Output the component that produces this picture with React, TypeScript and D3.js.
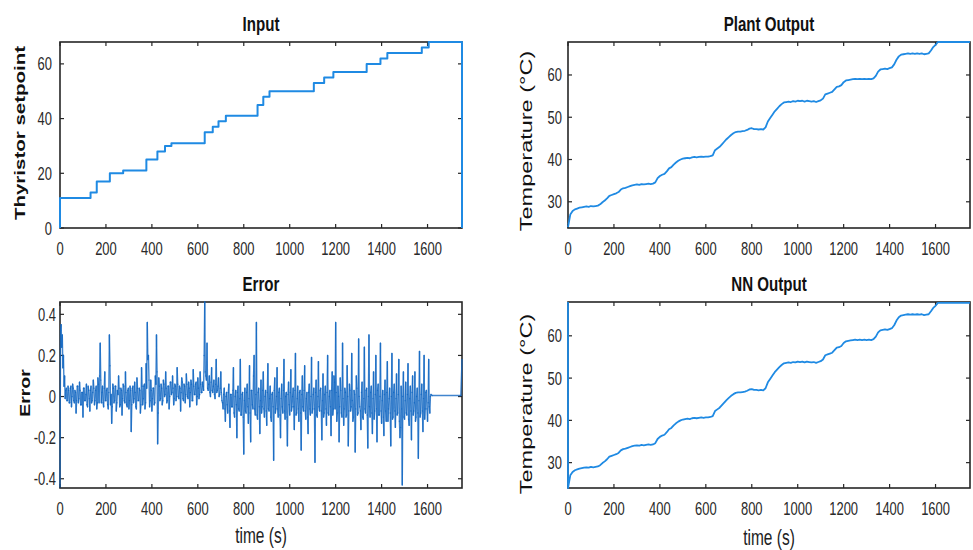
import React from 'react';
import * as d3 from 'd3';

// ---------- data ----------
const xTickValues = [0, 200, 400, 600, 800, 1000, 1200, 1400, 1600];
const inputTicks = [0, 20, 40, 60];
const tempTicks = [30, 40, 50, 60];
const errorTicks = [-0.4, -0.2, 0, 0.2, 0.4];

// Input (thyristor setpoint) step changes
const inputTimes = [0, 0, 133, 160, 217, 275, 376, 424, 457, 485, 630, 665, 690, 722, 860, 885, 912, 1105, 1150, 1190, 1335, 1395, 1425, 1575, 1605, 1750, 1750];
const inputValues = [0, 11, 13, 17, 20, 21, 25, 28, 30, 31, 35, 37, 39, 41, 45, 48, 50, 53, 55, 57, 60, 62, 64, 66, 68, 68, 0];

// Plant output temperature, sampled every 10 s from t = 0
const plantSampleStep = 10;
const plantValues = [
  24.0, 27.0, 27.8, 28.2, 28.4, 28.6, 28.7, 28.8, 28.9, 28.8,
  29.0, 28.9, 29.0, 29.1, 29.4, 29.9, 30.3, 30.8, 31.4, 31.6,
  31.8, 32.0, 32.3, 32.9, 33.2, 33.3, 33.5, 33.7, 33.9, 34.0,
  34.1, 34.0, 34.2, 34.1, 34.2, 34.3, 34.2, 34.3, 34.6, 35.6,
  36.1, 36.4, 36.6, 37.2, 37.9, 38.2, 38.8, 39.3, 39.7, 40.0,
  40.2, 40.3, 40.4, 40.3, 40.5, 40.6, 40.5, 40.6, 40.7, 40.6,
  40.7, 40.7, 40.8, 41.0, 42.2, 42.6, 43.0, 43.6, 44.2, 44.8,
  45.3, 45.8, 46.2, 46.5, 46.6, 46.6, 46.7, 46.8, 47.0, 47.3,
  47.4, 47.2, 47.2, 47.1, 47.2, 47.1, 47.6, 49.0, 49.8, 50.6,
  51.4, 52.0, 52.6, 53.1, 53.5, 53.6, 53.7, 53.6, 53.8, 53.7,
  53.9, 53.8, 53.9, 53.7, 53.9, 53.8, 53.7, 53.8, 53.6, 53.8,
  54.0, 54.4, 55.4, 55.6, 55.8, 56.0, 56.6, 57.2, 57.3, 57.6,
  58.3, 58.7, 58.8, 58.9, 59.0, 59.1, 59.0, 59.1, 59.0, 59.1,
  59.0, 59.1, 59.0, 59.2, 59.8, 60.8, 61.3, 61.4, 61.5, 61.4,
  61.6, 61.8, 62.5, 63.6, 64.4, 64.8, 64.9, 65.0, 65.1, 65.0,
  65.1, 65.0, 65.1, 65.0, 65.1, 64.9, 65.0, 65.1, 65.8, 66.6,
  67.1, 67.8, 67.8, 67.8, 67.8, 67.8, 67.8, 67.8, 67.8, 67.8,
  67.8, 67.8, 67.8, 67.8, 67.8, 67.8
];

// NN output temperature (visually identical to the plant output), with a start at the top
const nnLeadTimes = [0];
const nnLeadValues = [68];
const nnValues = plantValues;

// Error, sampled every 5 s from t = 0 up to 1615 s
const errorSampleStep = 5;
const errorValues = [
  -0.44, 0.35, 0.30, 0.20, 0.10,
  0.03, -0.02, 0.05, -0.03, 0.04, -0.05, 0.06, -0.02, 0.03, -0.08,
  0.05, -0.03, 0.07, -0.04, 0.02, -0.10, 0.04, -0.02, 0.06, -0.05,
  0.03, -0.07, 0.05, -0.02, 0.08, -0.04, 0.03, -0.06, 0.09, -0.03,
  0.26,
  -0.03, 0.05, -0.05, 0.12, -0.02, 0.04, -0.06,
  0.30,
  -0.04, -0.13, 0.06, -0.03, 0.05, -0.07, 0.03, 0.10, -0.05, 0.04,
  -0.09, 0.06, -0.02, 0.12, -0.04, 0.03, -0.06, 0.05, -0.17, 0.04,
  -0.03, 0.07, -0.05, 0.09, -0.02, 0.04, -0.08, 0.14, -0.04, 0.05,
  -0.06, 0.16,
  0.36, 0.20,
  -0.05, 0.08, -0.07, 0.04, -0.04, 0.10,
  0.30, -0.23,
  0.09, -0.02, 0.06, -0.04, 0.08, 0.00, 0.12, -0.03, 0.05, -0.06,
  0.07, 0.01, 0.10, -0.04, 0.06, -0.02, 0.14, 0.00, 0.05, -0.07,
  0.09, -0.01, 0.06, -0.03, 0.11, 0.00, 0.07, -0.05, 0.08, -0.02,
  0.13, 0.01, 0.06, -0.04, 0.09, -0.01, 0.12, 0.02, 0.07, 0.03,
  0.46, 0.10, 0.26,
  0.03, 0.10, 0.00, 0.14, 0.02, 0.08, -0.01, 0.18, 0.03, 0.09, 0.01, 0.12, -0.02,
  -0.06, 0.04, -0.12, 0.02, -0.08, 0.06, -0.15, 0.01, -0.05, 0.14,
  -0.10, 0.03, -0.20, 0.05, -0.07, 0.18, -0.09, 0.02, -0.28, 0.04,
  -0.08, 0.06, -0.13, 0.15, -0.22, 0.03, -0.06, 0.20, -0.09, 0.36,
  -0.11, 0.04, -0.18, 0.08, -0.05, 0.12, -0.10, 0.03, -0.14, 0.16,
  -0.07, 0.05, -0.12, 0.02, -0.31, 0.09, -0.06, 0.14, -0.10, 0.04,
  -0.20, 0.06, -0.08, 0.18, -0.11, 0.02, -0.24, 0.07, -0.09, 0.13,
  -0.05, 0.04, -0.16, 0.21, -0.08, 0.05, -0.12, 0.03, -0.26, 0.10,
  -0.07, 0.15, -0.11, 0.02, -0.18, 0.06, -0.09, 0.19, -0.06, 0.04,
  -0.32, 0.08, -0.10, 0.17, -0.07, 0.04, -0.21, 0.11, -0.08, 0.05,
  -0.14, 0.20, -0.09, 0.03, -0.19, 0.12, -0.06, 0.07, 0.36, -0.12,
  0.05, -0.22, 0.09, -0.08, 0.26, -0.14, 0.04, -0.10, 0.15, -0.24,
  0.06, -0.07, 0.21, -0.12, 0.03, -0.27, 0.10, -0.09, 0.28, -0.05,
  -0.16, 0.07, -0.11, 0.24, -0.08, 0.04, -0.25, 0.30, -0.10, 0.05,
  -0.18, 0.12, -0.07, 0.20, -0.22, 0.06, -0.09, 0.26, -0.13, 0.03,
  -0.19, 0.08, -0.12, 0.17, -0.06, 0.04, -0.24, 0.21, -0.10, 0.06,
  -0.15, 0.11, -0.08, 0.18, -0.20, 0.05, -0.43, 0.12, -0.11, 0.07,
  -0.09, 0.16, -0.14, 0.05, -0.21, 0.10, -0.07, 0.12, -0.10, 0.04,
  -0.30, 0.22, -0.08, 0.06, -0.17, 0.20, -0.06, 0.03, -0.12, 0.18,
  -0.08, 0.01
];
// Dense core of the error trace, read at the half-way instants (t = 2.5, 7.5, ... 1612.5 s)
const errorMidValues = [
  0.32, 0.24, 0.14, 0.05, -0.01, 0.04, -0.02, 0.03, -0.03, 0.05, 0.00, 0.04, -0.03, 0.02, -0.02, 0.05, -0.01, 0.03, -0.04, 0.02,
  0.04, -0.02, 0.01, -0.04, 0.05, -0.01, 0.03, -0.03, 0.02, 0.04, -0.02, 0.05, -0.03, 0.06, 0.10, 0.08, 0.02, -0.03, 0.04, -0.02,
  0.03, -0.04, 0.02, 0.15, 0.01, -0.05, 0.04, -0.02, 0.05, -0.03, 0.01, 0.04, -0.04, 0.03, -0.01, 0.05, -0.03, 0.02, -0.05, 0.04,
  -0.02, 0.03, -0.04, 0.05, -0.01, 0.02, -0.06, 0.04, -0.02, 0.03, -0.04, 0.05, -0.01, 0.06, -0.03, 0.04, 0.18, 0.08, -0.02, 0.03,
  -0.01, 0.04, -0.03, 0.06, 0.12, -0.08, 0.05, -0.01, 0.04, -0.02, 0.06, 0.01, 0.04, -0.02, 0.05, 0.00, 0.07, 0.02, 0.04, -0.01,
  0.05, 0.00, 0.06, -0.01, 0.04, 0.02, 0.07, -0.02, 0.05, 0.01, 0.06, -0.01, 0.04, 0.02, 0.06, -0.02, 0.05, 0.01, 0.07, 0.00,
  0.04, 0.01, 0.06, 0.02, 0.05, 0.20, 0.12, 0.08, 0.04, 0.06, 0.02, 0.07, 0.03, 0.05, 0.01, 0.06, 0.02, 0.05, 0.00, 0.04,
  0.02, -0.03, 0.01, -0.06, 0.00, -0.04, 0.02, -0.07, 0.01, -0.05, 0.03, -0.08, 0.00, -0.04, 0.02, -0.06, -0.01, -0.09, 0.01, -0.10,
  -0.02, -0.07, 0.02, -0.05, -0.01, -0.08, 0.03, -0.04, 0.10, -0.06, 0.01, -0.09, 0.02, -0.05, -0.02, -0.08, 0.03, -0.06, 0.00, -0.07,
  0.02, -0.06, -0.01, -0.10, 0.01, -0.05, 0.03, -0.08, 0.00, -0.06, 0.02, -0.09, -0.01, -0.05, 0.03, -0.07, 0.00, -0.10, 0.01, -0.04,
  0.02, -0.07, 0.00, -0.05, 0.03, -0.09, -0.01, -0.06, 0.02, -0.08, 0.01, -0.05, 0.03, -0.07, -0.01, -0.10, 0.02, -0.06, 0.00, -0.08,
  0.01, -0.06, 0.02, -0.09, 0.00, -0.05, 0.03, -0.07, -0.02, -0.10, 0.01, -0.06, 0.02, -0.08, 0.00, -0.05, 0.03, -0.09, 0.10, -0.06,
  0.02, -0.08, 0.00, -0.05, 0.03, -0.10, -0.01, -0.06, 0.02, -0.09, 0.00, -0.07, 0.03, -0.05, -0.02, -0.10, 0.01, -0.06, 0.04, -0.08,
  0.00, -0.07, 0.02, -0.10, -0.01, -0.06, 0.03, -0.09, 0.00, -0.05, 0.02, -0.08, -0.01, -0.11, 0.01, -0.06, 0.03, -0.09, 0.00, -0.07,
  -0.02, -0.10, 0.01, -0.07, 0.02, -0.12, -0.01, -0.08, 0.00, -0.11, 0.02, -0.07, -0.01, -0.09, 0.01, -0.12, -0.15, -0.06, 0.00, -0.10,
  -0.02, -0.08, 0.01, -0.11, -0.01, -0.07, 0.02, -0.09, -0.03, -0.12, 0.00, -0.08, -0.02, -0.10, 0.01, -0.07, -0.01, -0.11, 0.02, -0.06,
  -0.03, -0.05, 0.00
];
const errorTailTimes = [1620, 1745, 1750];
const errorTailValues = [0.005, 0.005, 0.18];

// ---------- layout ----------
const W = 973;
const H = 550;
const SX = 0.72; // horizontal squeeze of the reference text
const FONT = 'Liberation Sans, Arial, Helvetica, sans-serif';
const LINE = '#1f8ae3';
const AXIS = '#262626';

type Pt = [number, number];

function SText(props: { x: number; y: number; size: number; weight?: string; anchor?: string; fill?: string; children: React.ReactNode }) {
  const { x, y, size, weight = 'normal', anchor = 'middle', fill = '#222', children } = props;
  return (
    <text transform={`translate(${x},${y}) scale(${SX},1)`} fontSize={size} fontWeight={weight} textAnchor={anchor} fill={fill} fontFamily={FONT}>
      {children}
    </text>
  );
}

function VText(props: { x: number; y: number; size: number; weight?: string; children: React.ReactNode }) {
  const { x, y, size, weight = 'normal', children } = props;
  return (
    <text transform={`translate(${x},${y}) rotate(-90) scale(1,${SX})`} fontSize={size} fontWeight={weight} textAnchor="middle" fill="#111" fontFamily={FONT}>
      {children}
    </text>
  );
}

interface Series { pts: Pt[]; curve: d3.CurveFactory; width: number; color: string; segments?: boolean }

interface PanelProps {
  left: number; right: number; top: number; bottom: number;
  yDomain: [number, number];
  yTicks: number[];
  yTickFmt: (v: number) => string;
  yGap: number;
  title: string;
  ylabel: string; ylabelX: number; ylabelY: number; ylabelSize: number; ylabelWeight: string;
  xlabel?: string; xlabelY?: number;
  series: Series[];
  clipId: string;
}

function Panel(p: PanelProps) {
  const x = d3.scaleLinear().domain([0, 1750]).range([p.left, p.right]);
  const y = d3.scaleLinear().domain(p.yDomain).range([p.bottom, p.top]);
  const tl = 4;
  return (
    <g>
      <defs>
        <clipPath id={p.clipId}>
          <rect x={p.left - 1} y={p.top - 1.5} width={p.right - p.left + 2} height={p.bottom - p.top + 3} />
        </clipPath>
      </defs>
      <rect x={p.left} y={p.top} width={p.right - p.left} height={p.bottom - p.top} fill="#fff" />
      {xTickValues.map((t) => (
        <g key={'xt' + t}>
          <line x1={x(t)} x2={x(t)} y1={p.bottom} y2={p.bottom - tl} stroke={AXIS} strokeWidth={1.2} />
          <line x1={x(t)} x2={x(t)} y1={p.top} y2={p.top + tl} stroke={AXIS} strokeWidth={1.2} />
          <SText x={x(t)} y={p.bottom + 27} size={18} fill="#2a2a2a">{String(t)}</SText>
        </g>
      ))}
      {p.yTicks.map((t) => (
        <g key={'yt' + t}>
          <line x1={p.left} x2={p.left + tl} y1={y(t)} y2={y(t)} stroke={AXIS} strokeWidth={1.2} />
          <line x1={p.right} x2={p.right - tl} y1={y(t)} y2={y(t)} stroke={AXIS} strokeWidth={1.2} />
          <SText x={p.left - p.yGap} y={y(t) + 6.5} size={18} anchor="end" fill="#2a2a2a">{p.yTickFmt(t)}</SText>
        </g>
      ))}
      <rect x={p.left} y={p.top} width={p.right - p.left} height={p.bottom - p.top} fill="none" stroke={AXIS} strokeWidth={1.6} />
      <g clipPath={`url(#${p.clipId})`}>
        {p.series.map((s, i) => {
          if (s.segments) {
            return (
              <g key={i} stroke={s.color} strokeWidth={s.width} strokeOpacity={0.8} strokeLinecap="round">
                {s.pts.slice(1).map((d, j) => (
                  <line key={j} x1={x(s.pts[j][0])} y1={y(s.pts[j][1])} x2={x(d[0])} y2={y(d[1])} />
                ))}
              </g>
            );
          }
          const gen = d3.line<Pt>().x((d) => x(d[0])).y((d) => y(d[1])).curve(s.curve);
          return <path key={i} d={gen(s.pts) || ''} fill="none" stroke={s.color} strokeWidth={s.width} strokeLinejoin="round" />;
        })}
      </g>
      <SText x={(p.left + p.right) / 2} y={p.top - 11} size={21} weight="bold" fill="#111">{p.title}</SText>
      <VText x={p.ylabelX} y={p.ylabelY} size={p.ylabelSize} weight={p.ylabelWeight}>{p.ylabel}</VText>
      {p.xlabel && <SText x={(p.left + p.right) / 2} y={p.xlabelY!} size={21.5} fill="#222">{p.xlabel}</SText>}
    </g>
  );
}

export default function App() {
  const inputPts: Pt[] = inputTimes.map((t, i) => [t, inputValues[i]]);
  const plantPts: Pt[] = plantValues.map((v, i) => [i * plantSampleStep, v]);
  const nnPts: Pt[] = [
    ...nnLeadTimes.map((t, i) => [t, nnLeadValues[i]] as Pt),
    ...nnValues.map((v, i) => [i * plantSampleStep, v] as Pt),
  ];
  const errorPts: Pt[] = [];
  errorValues.forEach((v, i) => {
    errorPts.push([i * errorSampleStep, v]);
    if (i < errorMidValues.length) errorPts.push([i * errorSampleStep + errorSampleStep / 2, errorMidValues[i]]);
  });
  errorTailTimes.forEach((t, i) => errorPts.push([t, errorTailValues[i]]));

  const fmt0 = (v: number) => String(v);
  const fmtErr = (v: number) => (v === 0 ? '0' : v.toFixed(1));

  return (
    <svg width={W} height={H} style={{ position: 'absolute', left: 0, top: 0, background: '#fff' }}>
      <rect x={0} y={0} width={W} height={H} fill="#fff" />
      <Panel
        left={60} right={462} top={42} bottom={228}
        yDomain={[0, 68]} yTicks={inputTicks} yTickFmt={fmt0} yGap={8}
        title="Input" ylabel="Thyristor setpoint" ylabelX={25} ylabelY={133} ylabelSize={20.5} ylabelWeight="bold"
        series={[{ pts: inputPts, curve: d3.curveStepAfter, width: 2, color: LINE }]}
        clipId="c1"
      />
      <Panel
        left={568} right={970} top={42} bottom={228}
        yDomain={[23.8, 67.8]} yTicks={tempTicks} yTickFmt={fmt0} yGap={6}
        title="Plant Output" ylabel="Temperature (°C)" ylabelX={532} ylabelY={141} ylabelSize={23.5} ylabelWeight="normal"
        series={[{ pts: plantPts, curve: d3.curveLinear, width: 1.8, color: LINE }]}
        clipId="c2"
      />
      <Panel
        left={60} right={462} top={302} bottom={488}
        yDomain={[-0.445, 0.46]} yTicks={errorTicks} yTickFmt={fmtErr} yGap={4}
        title="Error" ylabel="Error" ylabelX={30} ylabelY={393} ylabelSize={19.5} ylabelWeight="bold"
        xlabel="time (s)" xlabelY={543}
        series={[{ pts: errorPts, curve: d3.curveLinear, width: 1.4, color: '#1266c2', segments: true }]}
        clipId="c3"
      />
      <Panel
        left={568} right={970} top={302} bottom={488}
        yDomain={[24.0, 68.0]} yTicks={tempTicks} yTickFmt={fmt0} yGap={6}
        title="NN Output" ylabel="Temperature (°C)" ylabelX={532} ylabelY={404} ylabelSize={23.5} ylabelWeight="normal"
        xlabel="time (s)" xlabelY={545}
        series={[{ pts: nnPts, curve: d3.curveLinear, width: 1.8, color: LINE }]}
        clipId="c4"
      />
    </svg>
  );
}
